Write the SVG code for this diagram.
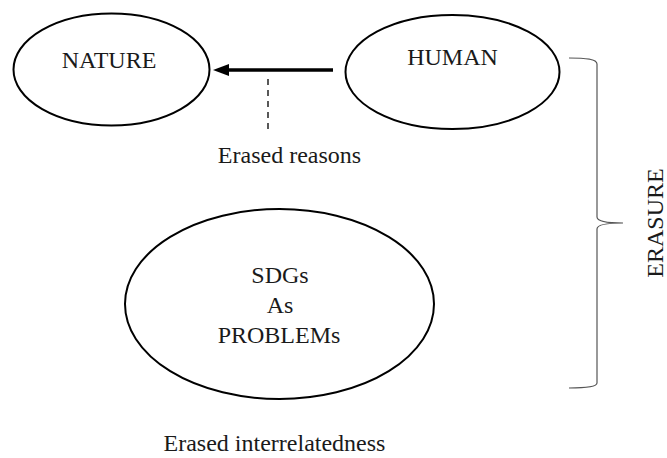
<svg xmlns="http://www.w3.org/2000/svg" width="667" height="458" viewBox="0 0 667 458">
<style>
.node{fill:#fff;stroke:#000;stroke-width:2}
.t{font-family:"Liberation Serif","Times New Roman",serif;font-size:24px;fill:#1a1a1a;text-anchor:middle}
</style>
<rect width="667" height="458" fill="#fff"/>
<g id="nature">
<ellipse class="node" cx="111.5" cy="69.5" rx="98" ry="56"/>
<text class="t" x="109" y="68">NATURE</text>
</g>
<g id="human">
<ellipse class="node" cx="452.5" cy="72" rx="107" ry="57"/>
<text class="t" x="452.5" y="65">HUMAN</text>
</g>
<g id="sdgs">
<ellipse class="node" cx="279.5" cy="304" rx="154.5" ry="95"/>
<text class="t" x="280" y="283">SDGs</text>
<text class="t" x="280" y="313">As</text>
<text class="t" x="279" y="343">PROBLEMs</text>
</g>
<g id="connectors">
<line x1="333" y1="70" x2="228" y2="70" stroke="#000" stroke-width="3.5"/>
<path d="M213,70 L229,64 L229,76 Z" fill="#000"/>
<line x1="268" y1="79" x2="268" y2="130" stroke="#000" stroke-width="1.3" stroke-dasharray="6,5"/>
<path d="M569,58 C585,58 597,59 597,64 L597,217 C597,221 606,223 623,223 C606,223 597,225 597,229 L597,383 C597,387 585,388 569,388" fill="none" stroke="#555" stroke-width="1.2"/>
</g>
<g id="labels">
<text class="t" x="289.5" y="163">Erased reasons</text>
<text class="t" x="274.5" y="451">Erased interrelatedness</text>
<text class="t" transform="translate(663,223) rotate(-90)">ERASURE</text>
</g>
</svg>
